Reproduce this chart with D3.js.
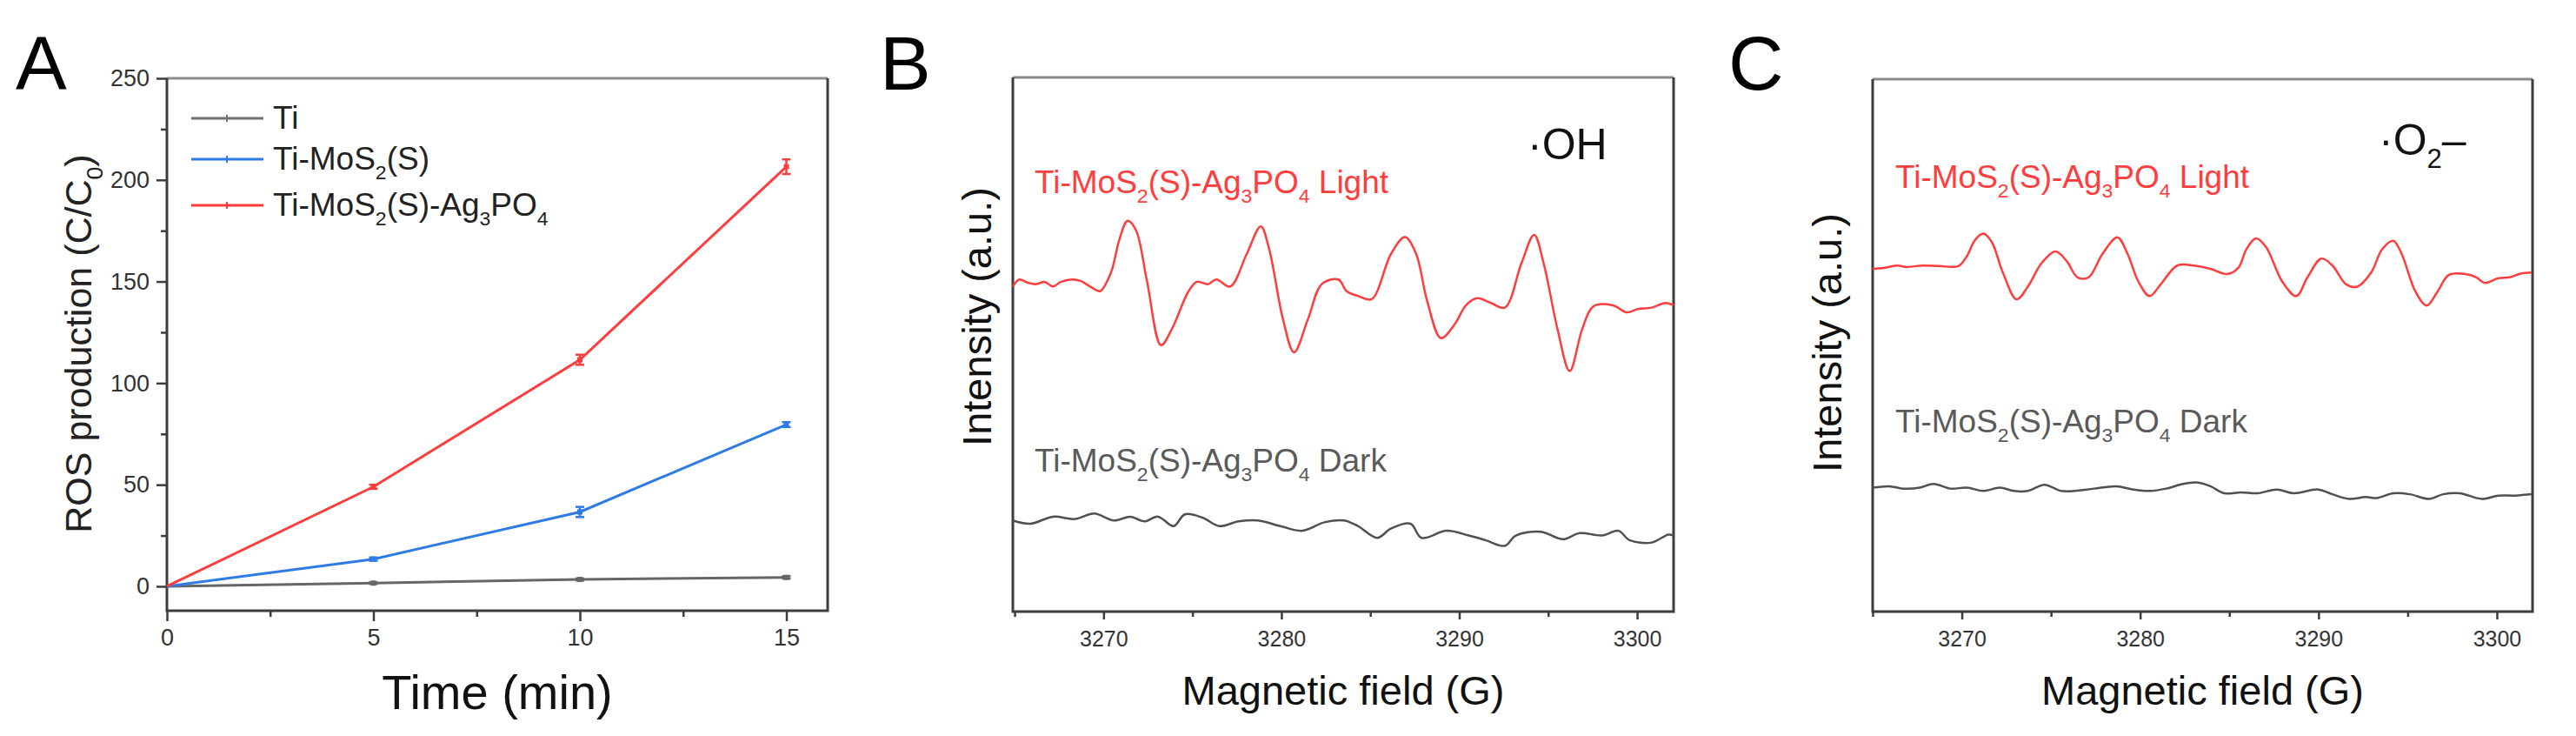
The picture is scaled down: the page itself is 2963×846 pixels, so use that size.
<!DOCTYPE html>
<html>
<head>
<meta charset="utf-8">
<script src="https://cdn.jsdelivr.net/npm/d3@7"></script>
<style>
  body { margin: 0; background: #fff; }
  text { font-family: "Liberation Sans", Arial, sans-serif; }
</style>
</head>
<body>
<svg id="figure"></svg>
<script>
// ---- panel A data: ROS production vs time ----
var times = [0, 5, 10, 15];
var tiValues = [0, 1.6, 3.4, 4.4];
var tiErrors = [0, 0.4, 0.5, 0.6];
var mosValues = [0, 13.4, 36.6, 79.6];
var mosErrors = [0, 0.8, 2.5, 1.2];
var agValues = [0, 49, 111.5, 206.5];
var agErrors = [0, 1, 2.5, 3.6];
var xTicksA = [0, 5, 10, 15];
var xMinorA = [2.5, 7.5, 12.5];
var yTicksA = [0, 50, 100, 150, 200, 250];
var yMinorA = [25, 75, 125, 175, 225];

// ---- panels B and C: EPR spectra (field in G, intensity a.u.) ----
var fieldTicks = [3270, 3280, 3290, 3300];
var fieldMinor = [3265, 3275, 3285, 3295];

var ohLightField = [3264.9, 3265.27, 3265.74, 3266.21, 3266.68, 3267.15, 3267.61, 3268.24, 3268.7, 3269.33, 3269.8, 3270.42, 3270.89, 3271.35, 3271.82, 3272.45, 3273.23, 3273.85, 3274.78, 3275.25, 3275.88, 3276.34, 3277.12, 3278.06, 3278.84, 3279.31, 3280.09, 3280.71, 3281.49, 3282.27, 3283.2, 3283.67, 3284.3, 3285.07, 3286.17, 3286.95, 3287.57, 3288.19, 3288.97, 3289.75, 3290.38, 3291, 3291.78, 3292.56, 3293.5, 3294.21, 3294.74, 3295.52, 3296.21, 3296.92, 3297.55, 3298.64, 3299.42, 3300.04, 3300.82, 3301.6, 3302.05];
var ohLightIntensity = [608.6, 621.8, 615.7, 613, 617.4, 608.6, 617.4, 621.8, 619.2, 606.9, 599.8, 635, 696.6, 731.7, 714.2, 617.4, 498.7, 529.5, 599.8, 617.4, 613, 621.8, 608.6, 670.2, 721.2, 679, 547, 485.5, 547, 613, 621.8, 599.8, 591, 584.9, 670.2, 701, 670.2, 582.2, 511.9, 538.3, 573.4, 586.6, 577.8, 569, 652.6, 705.4, 652.6, 529.5, 450.3, 529.5, 571.7, 573.4, 560.2, 566.4, 569, 577.8, 573.4];

var ohDarkField = [3264.9, 3265.9, 3267.15, 3268.39, 3269.48, 3270.58, 3271.51, 3272.29, 3273.07, 3273.94, 3274.57, 3275.56, 3276.5, 3277.59, 3278.68, 3279.93, 3281.18, 3282.42, 3283.52, 3284.3, 3285.39, 3286.17, 3287.26, 3287.88, 3289.28, 3290.53, 3291.47, 3292.56, 3293.18, 3294.59, 3295.83, 3296.77, 3298.02, 3298.95, 3299.57, 3300.82, 3301.76, 3302.05];
var ohDarkIntensity = [170.6, 164.5, 177.7, 173.3, 183.8, 170.6, 177.7, 168.9, 177.7, 160.1, 182, 175.9, 160.1, 168.9, 170.6, 160.1, 151.3, 167.1, 170.6, 160.1, 138.1, 155.7, 164.5, 138.1, 151.3, 142.5, 133.7, 123.1, 142.5, 149.5, 135.4, 146.9, 142.5, 151.3, 133.7, 129.3, 144.2, 142.5];

var o2LightField = [3265, 3265.62, 3266.4, 3266.86, 3267.8, 3268.73, 3269.81, 3270.28, 3270.75, 3271.21, 3271.68, 3272.3, 3273.07, 3273.7, 3274.47, 3275.25, 3275.87, 3276.49, 3277.11, 3277.89, 3278.73, 3279.29, 3279.91, 3280.53, 3281.15, 3282.08, 3283.01, 3283.94, 3284.88, 3285.5, 3285.96, 3286.49, 3287.05, 3287.98, 3288.76, 3289.38, 3290.16, 3290.78, 3291.55, 3292.17, 3292.95, 3293.57, 3294.19, 3294.66, 3295.43, 3296.06, 3296.68, 3297.3, 3298.23, 3298.85, 3299.32, 3300.09, 3300.71, 3301.34, 3301.96];
var o2LightIntensity = [643.7, 645.5, 649.9, 647.2, 649.9, 649, 649, 667.5, 698.4, 709.8, 694, 636.7, 586.4, 610.2, 654.3, 676.3, 658.7, 627.8, 627.8, 671.9, 702.8, 671.9, 619, 592.6, 614.6, 649.9, 649.9, 643.7, 634, 645.5, 680.7, 701, 685.2, 619, 592.6, 627.8, 663.1, 649.9, 614.6, 610.2, 636.7, 680.7, 696.6, 671.9, 601.4, 574.9, 601.4, 632.2, 634, 627.8, 617.3, 626.1, 627.8, 634.9, 636.7];

var o2DarkField = [3265, 3265.93, 3266.71, 3267.64, 3268.42, 3269.35, 3270.28, 3271.21, 3272.14, 3272.92, 3273.7, 3274.63, 3275.56, 3276.34, 3277.42, 3278.66, 3279.6, 3280.53, 3281.46, 3282.39, 3283.17, 3283.94, 3284.72, 3285.65, 3286.58, 3287.67, 3288.6, 3290, 3290.78, 3291.71, 3292.64, 3293.26, 3294.19, 3295.12, 3296.21, 3296.99, 3297.92, 3299.16, 3300.09, 3301.02, 3301.96];
var o2DarkIntensity = [232.8, 235.4, 231, 232.8, 239.8, 231, 232.8, 226.6, 232.8, 226.6, 226.6, 238.1, 226.6, 226.6, 231, 235.4, 229.3, 226.6, 231, 239.8, 242.5, 235.4, 222.2, 224, 222.2, 229.3, 222.2, 229.3, 220.4, 211.6, 215.1, 213.4, 222.2, 220.4, 211.6, 220.4, 222.2, 211.6, 217.8, 217.8, 220.4];

var red = "#ff3d3d", blue = "#2f7be6", gray = "#666666", axisColor = "#3d3d3d";

var svg = d3.select("#figure")
    .attr("width", 2963)
    .attr("height", 846)
    .style("background", "#fff");

// write text with subscripts: parts = [[text, "sub"?], ...]
function richText(g, parts, size) {
    var shift = 0;
    parts.forEach(function(p) {
        var target = p[1] === "sub" ? size * 0.3 : 0;
        var t = g.append("tspan").text(p[0]).attr("dy", target - shift);
        if (p[1] === "sub") t.attr("font-size", size * 0.62);
        shift = target;
    });
    return g;
}

function label(x, y, parts, size, color, anchor) {
    var t = svg.append("text")
        .attr("x", x).attr("y", y)
        .attr("font-size", size)
        .attr("fill", color)
        .attr("text-anchor", anchor || "start");
    return richText(t, parts, size);
}

function frame(left, right, top, bottom) {
    svg.append("line").attr("x1", left).attr("x2", right).attr("y1", top).attr("y2", top)
        .attr("stroke", "#8a8a8a").attr("stroke-width", 3);
    svg.append("path")
        .attr("d", "M" + left + "," + top + "V" + bottom + "H" + right + "V" + top)
        .attr("fill", "none").attr("stroke", axisColor).attr("stroke-width", 3);
}

function styleAxis(g, fontSize) {
    g.select(".domain").remove();
    g.selectAll(".tick line").attr("stroke", axisColor).attr("stroke-width", 2.5);
    g.selectAll(".tick text")
        .attr("font-size", fontSize)
        .attr("fill", "#333")
        .style("font-family", "'Liberation Sans', Arial, sans-serif");
}

// ================= Panel A =================
var a = { left: 192, right: 952, top: 90, bottom: 702 };
var xA = d3.scaleLinear().domain([0, 16]).range([a.left, a.right]);
var yA = d3.scaleLinear().domain([-12, 250]).range([a.bottom, a.top]);

var gxA = svg.append("g").attr("transform", "translate(0," + a.bottom + ")")
    .call(d3.axisBottom(xA).tickValues(xTicksA).tickSize(12).tickPadding(9).tickFormat(d3.format("d")));
styleAxis(gxA, 27);
svg.append("g").attr("transform", "translate(0," + a.bottom + ")")
    .call(d3.axisBottom(xA).tickValues(xMinorA).tickSize(7).tickFormat(""))
    .call(function(g) { styleAxis(g, 0); });

var gyA = svg.append("g").attr("transform", "translate(" + a.left + ",0)")
    .call(d3.axisLeft(yA).tickValues(yTicksA).tickSize(12).tickPadding(8).tickFormat(d3.format("d")));
styleAxis(gyA, 27);
svg.append("g").attr("transform", "translate(" + a.left + ",0)")
    .call(d3.axisLeft(yA).tickValues(yMinorA).tickSize(7).tickFormat(""))
    .call(function(g) { styleAxis(g, 0); });

frame(a.left, a.right, a.top, a.bottom);

var seriesA = [
    { values: tiValues, errors: tiErrors, color: gray },
    { values: mosValues, errors: mosErrors, color: blue },
    { values: agValues, errors: agErrors, color: red }
];

var lineA = d3.line()
    .x(function(d) { return xA(d[0]); })
    .y(function(d) { return yA(d[1]); });

seriesA.forEach(function(s) {
    var pts = times.map(function(t, i) { return [t, s.values[i], s.errors[i]]; });
    svg.append("path").datum(pts)
        .attr("d", lineA)
        .attr("fill", "none")
        .attr("stroke", s.color)
        .attr("stroke-width", 3);
    var pg = svg.append("g").attr("stroke", s.color).attr("stroke-width", 2.5);
    pts.slice(1).forEach(function(p) {
        var x = xA(p[0]);
        pg.append("line").attr("x1", x).attr("x2", x)
            .attr("y1", yA(p[1] - p[2])).attr("y2", yA(p[1] + p[2]));
        [p[1] - p[2], p[1] + p[2]].forEach(function(v) {
            pg.append("line").attr("x1", x - 5).attr("x2", x + 5)
                .attr("y1", yA(v)).attr("y2", yA(v));
        });
        svg.append("rect").attr("x", x - 3).attr("y", yA(p[1]) - 3)
            .attr("width", 6).attr("height", 6).attr("fill", s.color);
    });
});

// legend
var legendRows = [
    { y: 136, color: "#707070", parts: [["Ti"]] },
    { y: 183, color: blue, parts: [["Ti-MoS"], ["2", "sub"], ["(S)"]] },
    { y: 236, color: red, parts: [["Ti-MoS"], ["2", "sub"], ["(S)-Ag"], ["3", "sub"], ["PO"], ["4", "sub"]] }
];
legendRows.forEach(function(r) {
    svg.append("line").attr("x1", 220).attr("x2", 303).attr("y1", r.y).attr("y2", r.y)
        .attr("stroke", r.color).attr("stroke-width", 3);
    svg.append("line").attr("x1", 261).attr("x2", 261).attr("y1", r.y - 4).attr("y2", r.y + 4)
        .attr("stroke", r.color).attr("stroke-width", 2);
    label(314, r.y + 12, r.parts, 37, "#222");
});

label(572, 815, [["Time (min)"]], 56, "#111", "middle");
svg.append("g").attr("transform", "translate(105,395) rotate(-90)")
    .call(function(g) {
        var t = g.append("text").attr("text-anchor", "middle").attr("font-size", 43).attr("fill", "#222");
        richText(t, [["ROS production (C/C"], ["0", "sub"], [")"]], 43);
    });
label(18, 103, [["A"]], 88, "#000");

// ================= Panels B and C =================
function eprPanel(box, domain, light, dark, opts) {
    var x = d3.scaleLinear().domain(domain).range([box.left, box.right]);
    var y = d3.scaleLinear().domain([0, 1000]).range([box.bottom, box.top]);

    var gx = svg.append("g").attr("transform", "translate(0," + box.bottom + ")")
        .call(d3.axisBottom(x).tickValues(fieldTicks).tickSize(9).tickPadding(13).tickFormat(d3.format("d")));
    styleAxis(gx, 25);
    svg.append("g").attr("transform", "translate(0," + box.bottom + ")")
        .call(d3.axisBottom(x).tickValues(fieldMinor).tickSize(6).tickFormat(""))
        .call(function(g) { styleAxis(g, 0); });

    frame(box.left, box.right, box.top, box.bottom);

    var line = d3.line()
        .x(function(d) { return x(d[0]); })
        .y(function(d) { return y(d[1]); })
        .curve(d3.curveCatmullRom.alpha(0.5));

    [[light, red], [dark, "#505050"]].forEach(function(s) {
        var pts = s[0][0].map(function(f, i) { return [f, s[0][1][i]]; });
        svg.append("path").datum(pts)
            .attr("d", line)
            .attr("fill", "none")
            .attr("stroke", s[1])
            .attr("stroke-width", 2.5);
    });

    var sample = [["Ti-MoS"], ["2", "sub"], ["(S)-Ag"], ["3", "sub"], ["PO"], ["4", "sub"]];
    label(opts.textX, opts.lightY, sample.concat([[" Light"]]), 37, red);
    label(opts.textX, opts.darkY, sample.concat([[" Dark"]]), 37, "#5a5a5a");
    label(opts.radicalX, opts.radicalY, opts.radical, 50, "#111");

    label((box.left + box.right) / 2, 810, [["Magnetic field (G)"]], 47, "#111", "middle");
    svg.append("text")
        .attr("transform", "translate(" + opts.titleX + "," + opts.titleY + ") rotate(-90)")
        .attr("text-anchor", "middle")
        .attr("font-size", 47)
        .attr("fill", "#111")
        .text("Intensity (a.u.)");
    label(opts.letterX, 103, [[opts.letter]], 88, "#000");
}

eprPanel({ left: 1165, right: 1925, top: 89, bottom: 703 }, [3264.9, 3302.05],
    [ohLightField, ohLightIntensity], [ohDarkField, ohDarkIntensity],
    { textX: 1190, lightY: 222, darkY: 542, radicalX: 1757, radicalY: 183,
      radical: [["\u00b7OH"]], titleX: 1140, titleY: 364, letter: "B", letterX: 1012 });

eprPanel({ left: 2154, right: 2913, top: 91, bottom: 703 }, [3265, 3302],
    [o2LightField, o2LightIntensity], [o2DarkField, o2DarkIntensity],
    { textX: 2180, lightY: 216, darkY: 497, radicalX: 2736, radicalY: 178,
      radical: [["\u00b7O"], ["2", "sub"], ["\u2013"]], titleX: 2118, titleY: 394, letter: "C", letterX: 1988 });
</script>
</body>
</html>
